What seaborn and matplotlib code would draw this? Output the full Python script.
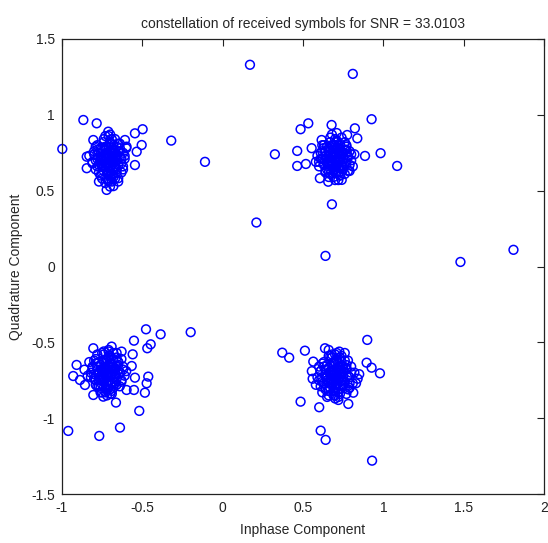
import numpy as np
import pandas as pd
import matplotlib
matplotlib.use('Agg')
import matplotlib.pyplot as plt
import seaborn as sns

sns.set_style('white')
plt.rcParams['font.family'] = ['Liberation Sans', 'DejaVu Sans']

# received symbols
tl_x = [-0.71, -0.68, -0.74, -0.70, -0.73, -0.66, -0.76, -0.69, -0.72, -0.65,
        -0.77, -0.67, -0.75, -0.70, -0.64, -0.78, -0.72, -0.68, -0.63, -0.74,
        -0.79, -0.66, -0.71, -0.62, -0.80, -0.69, -0.76, -0.64, -0.73, -0.67,
        -0.81, -0.61, -0.70, -0.72, -0.69, -0.75, -0.67, -0.71, -0.73, -0.66,
        -0.78, -0.62, -0.68, -0.60, -0.83, -0.77, -0.71, -0.65,
        -0.867, -0.784, -0.998, -0.498, -0.546, -0.504, -0.535, -0.546, -0.846,
        -0.722, -0.701, -0.650, -0.712, -0.805, -0.846, -0.608, -0.598]
tl_y = [0.71, 0.73, 0.69, 0.76, 0.66, 0.70, 0.74, 0.64, 0.79, 0.76,
        0.67, 0.66, 0.78, 0.60, 0.72, 0.71, 0.62, 0.80, 0.68, 0.82,
        0.64, 0.62, 0.57, 0.75, 0.76, 0.84, 0.60, 0.81, 0.55, 0.58,
        0.69, 0.71, 0.68, 0.74, 0.72, 0.71, 0.69, 0.65, 0.77, 0.79,
        0.80, 0.64, 0.53, 0.78, 0.73, 0.56, 0.86, 0.56,
        0.966, 0.944, 0.775, 0.905, 0.878, 0.801, 0.757, 0.669, 0.648,
        0.505, 0.527, 0.582, 0.889, 0.834, 0.724, 0.834, 0.790]
# dense core of the top-left cloud
tl_core_x = [-0.70, -0.72, -0.69, -0.73, -0.71, -0.68, -0.74, -0.70, -0.72, -0.67,
             -0.75, -0.69, -0.71, -0.73, -0.66, -0.76, -0.70, -0.68, -0.74, -0.72,
             -0.69, -0.71, -0.65, -0.77, -0.70, -0.73, -0.67, -0.75, -0.68, -0.72,
             -0.64, -0.78, -0.71, -0.69, -0.74, -0.66, -0.70, -0.76,
             -0.63, -0.79, -0.66, -0.76, -0.62, -0.80, -0.68, -0.74, -0.65, -0.77,
             -0.71, -0.70, -0.64, -0.78, -0.67, -0.75, -0.73, -0.69, -0.61, -0.81,
             -0.66, -0.76, -0.72, -0.70, -0.63, -0.79, -0.68, -0.74]
tl_core_y = [0.70, 0.72, 0.74, 0.68, 0.63, 0.77, 0.72, 0.66, 0.75, 0.72,
             0.66, 0.69, 0.79, 0.71, 0.74, 0.70, 0.73, 0.64, 0.63, 0.67,
             0.77, 0.61, 0.67, 0.75, 0.81, 0.79, 0.75, 0.61, 0.70, 0.58,
             0.78, 0.77, 0.68, 0.60, 0.73, 0.65, 0.82, 0.68,
             0.71, 0.70, 0.64, 0.78, 0.66, 0.74, 0.59, 0.84, 0.81, 0.62,
             0.56, 0.87, 0.76, 0.66, 0.84, 0.58, 0.86, 0.56, 0.73, 0.68,
             0.70, 0.71, 0.74, 0.65, 0.62, 0.79, 0.76, 0.67]

tr_x = [0.70, 0.73, 0.67, 0.71, 0.68, 0.75, 0.64, 0.72, 0.69, 0.76,
        0.63, 0.74, 0.66, 0.78, 0.71, 0.61, 0.77, 0.73, 0.65, 0.80,
        0.62, 0.69, 0.75, 0.67, 0.79, 0.60, 0.72, 0.70, 0.68, 0.74,
        0.66, 0.71, 0.77, 0.63, 0.81, 0.59, 0.73, 0.67, 0.82, 0.64,
        0.76, 0.70, 0.58, 0.79,
        0.485, 0.533, 0.678, 0.927, 0.823, 0.775, 0.838, 0.325, 0.464, 0.464,
        0.518, 0.983, 1.086, 0.886, 0.616, 0.605, 0.741, 0.657, 0.554]
tr_y = [0.72, 0.74, 0.70, 0.77, 0.67, 0.71, 0.73, 0.65, 0.80, 0.77,
        0.68, 0.67, 0.78, 0.73, 0.62, 0.71, 0.68, 0.81, 0.64, 0.70,
        0.76, 0.63, 0.64, 0.82, 0.76, 0.66, 0.70, 0.74, 0.72, 0.75,
        0.69, 0.68, 0.80, 0.80, 0.66, 0.73, 0.60, 0.61, 0.74, 0.62,
        0.61, 0.84, 0.69, 0.63,
        0.905, 0.944, 0.933, 0.971, 0.911, 0.867, 0.845, 0.740, 0.762, 0.663,
        0.676, 0.747, 0.663, 0.729, 0.834, 0.582, 0.571, 0.559, 0.780]
tr_core_x = [0.71, 0.69, 0.72, 0.68, 0.70, 0.73, 0.67, 0.71, 0.69, 0.74,
             0.66, 0.72, 0.70, 0.68, 0.75, 0.65, 0.71, 0.73, 0.67, 0.69,
             0.72, 0.70, 0.76, 0.64, 0.71, 0.68, 0.74, 0.66, 0.73, 0.69,
             0.77, 0.63, 0.70, 0.72, 0.67, 0.75, 0.71, 0.65,
             0.78, 0.62, 0.75, 0.65, 0.79, 0.61, 0.73, 0.67, 0.76, 0.64,
             0.70, 0.71, 0.77, 0.63, 0.74, 0.66, 0.68, 0.72, 0.80, 0.60,
             0.75, 0.65, 0.69, 0.71, 0.78, 0.62, 0.73, 0.67]
tr_core_y = [0.71, 0.73, 0.75, 0.69, 0.64, 0.78, 0.73, 0.67, 0.76, 0.73,
             0.67, 0.70, 0.80, 0.72, 0.75, 0.71, 0.74, 0.65, 0.64, 0.68,
             0.78, 0.62, 0.68, 0.76, 0.82, 0.80, 0.76, 0.62, 0.71, 0.59,
             0.79, 0.78, 0.69, 0.61, 0.74, 0.66, 0.83, 0.69,
             0.72, 0.71, 0.65, 0.79, 0.67, 0.75, 0.60, 0.85, 0.82, 0.63,
             0.57, 0.88, 0.77, 0.67, 0.85, 0.59, 0.87, 0.57, 0.74, 0.69,
             0.71, 0.72, 0.75, 0.66, 0.63, 0.80, 0.77, 0.68]

bl_x = [-0.72, -0.69, -0.75, -0.71, -0.74, -0.67, -0.78, -0.70, -0.73, -0.66,
        -0.80, -0.68, -0.76, -0.64, -0.72, -0.79, -0.63, -0.77, -0.70, -0.82,
        -0.65, -0.74, -0.68, -0.61, -0.81, -0.71, -0.73, -0.69, -0.75, -0.67,
        -0.77, -0.62, -0.84, -0.66, -0.79, -0.71, -0.63, -0.75, -0.60, -0.83,
        -0.69, -0.78, -0.66, -0.86,
        -0.477, -0.386, -0.199, -0.552, -0.448, -0.469, -0.560, -0.566, -0.546,
        -0.463, -0.473, -0.484, -0.552, -0.519, -0.664, -0.961, -0.768, -0.639,
        -0.930, -0.888, -0.805, -0.691, -0.629, -0.805, -0.743, -0.598, -0.909, -0.857]
bl_y = [-0.70, -0.68, -0.72, -0.65, -0.76, -0.73, -0.68, -0.78, -0.62, -0.66,
        -0.74, -0.61, -0.65, -0.70, -0.81, -0.61, -0.76, -0.79, -0.59, -0.70,
        -0.63, -0.58, -0.80, -0.72, -0.66, -0.73, -0.68, -0.71, -0.69, -0.69,
        -0.75, -0.66, -0.72, -0.78, -0.78, -0.56, -0.61, -0.83, -0.69, -0.63,
        -0.84, -0.58, -0.57, -0.68,
        -0.414, -0.447, -0.433, -0.489, -0.513, -0.539, -0.579, -0.656, -0.733,
        -0.726, -0.770, -0.832, -0.814, -0.952, -0.897, -1.084, -1.117, -1.062,
        -0.722, -0.748, -0.539, -0.528, -0.561, -0.847, -0.858, -0.814, -0.649, -0.781]
bl_core_x = [-0.71, -0.73, -0.70, -0.74, -0.72, -0.69, -0.75, -0.71, -0.73, -0.68,
             -0.76, -0.70, -0.72, -0.74, -0.67, -0.77, -0.71, -0.69, -0.75, -0.73,
             -0.70, -0.72, -0.66, -0.78, -0.71, -0.74, -0.68, -0.76, -0.69, -0.73,
             -0.65, -0.79, -0.72, -0.70, -0.75, -0.67, -0.71, -0.77,
             -0.64, -0.80, -0.67, -0.77, -0.63, -0.81, -0.69, -0.75, -0.66, -0.78,
             -0.72, -0.71, -0.65, -0.79, -0.68, -0.76, -0.74, -0.70, -0.62, -0.82,
             -0.67, -0.77, -0.73, -0.71, -0.64, -0.80, -0.69, -0.75]
bl_core_y = [-0.71, -0.69, -0.67, -0.73, -0.78, -0.64, -0.69, -0.75, -0.66, -0.69,
             -0.75, -0.72, -0.62, -0.70, -0.67, -0.71, -0.68, -0.77, -0.78, -0.74,
             -0.64, -0.80, -0.74, -0.66, -0.60, -0.62, -0.66, -0.80, -0.71, -0.83,
             -0.63, -0.64, -0.73, -0.81, -0.68, -0.76, -0.59, -0.73,
             -0.70, -0.71, -0.77, -0.63, -0.75, -0.67, -0.82, -0.57, -0.60, -0.79,
             -0.85, -0.55, -0.65, -0.75, -0.57, -0.83, -0.56, -0.84, -0.68, -0.73,
             -0.71, -0.70, -0.67, -0.76, -0.79, -0.62, -0.65, -0.74]

br_x = [0.70, 0.73, 0.67, 0.71, 0.68, 0.75, 0.64, 0.72, 0.69, 0.77,
        0.62, 0.74, 0.66, 0.79, 0.70, 0.61, 0.76, 0.66, 0.73, 0.80,
        0.63, 0.68, 0.78, 0.64, 0.81, 0.59, 0.72, 0.69, 0.71, 0.74,
        0.67, 0.75, 0.65, 0.77, 0.60, 0.82, 0.70, 0.62, 0.79, 0.72,
        0.58, 0.84, 0.66, 0.76,
        0.371, 0.414, 0.512, 0.637, 0.660, 0.726, 0.900, 0.896, 0.927, 0.979,
        0.485, 0.601, 0.782, 0.813, 0.830, 0.850, 0.610, 0.641, 0.564, 0.555,
        0.560, 0.610, 0.690]
br_y = [-0.72, -0.70, -0.74, -0.67, -0.78, -0.75, -0.71, -0.81, -0.64, -0.68,
        -0.76, -0.63, -0.67, -0.73, -0.85, -0.69, -0.80, -0.82, -0.60, -0.66,
        -0.63, -0.60, -0.62, -0.80, -0.77, -0.73, -0.75, -0.71, -0.77, -0.73,
        -0.69, -0.66, -0.86, -0.84, -0.66, -0.70, -0.58, -0.83, -0.80, -0.88,
        -0.78, -0.74, -0.59, -0.57,
        -0.568, -0.601, -0.555, -0.539, -0.550, -0.561, -0.484, -0.634, -0.667, -0.704,
        -0.891, -0.928, -0.906, -0.832, -0.770, -0.710, -1.082, -1.143, -0.627, -0.690,
        -0.740, -0.790, -0.820]
br_core_x = [0.71, 0.69, 0.72, 0.68, 0.70, 0.73, 0.67, 0.71, 0.69, 0.74,
             0.66, 0.72, 0.70, 0.68, 0.75, 0.65, 0.71, 0.73, 0.67, 0.69,
             0.72, 0.70, 0.76, 0.64, 0.71, 0.68, 0.74, 0.66, 0.73, 0.69,
             0.77, 0.63, 0.70, 0.72, 0.67, 0.75, 0.71, 0.65,
             0.78, 0.62, 0.75, 0.65, 0.79, 0.61, 0.73, 0.67, 0.76, 0.64,
             0.70, 0.71, 0.77, 0.63, 0.74, 0.66, 0.68, 0.72, 0.80, 0.60,
             0.75, 0.65, 0.69, 0.71, 0.78, 0.62, 0.73, 0.67]
br_core_y = [-0.73, -0.71, -0.69, -0.75, -0.80, -0.66, -0.71, -0.77, -0.68, -0.71,
             -0.77, -0.74, -0.64, -0.72, -0.69, -0.73, -0.70, -0.79, -0.80, -0.76,
             -0.66, -0.82, -0.76, -0.68, -0.62, -0.64, -0.68, -0.82, -0.73, -0.85,
             -0.65, -0.66, -0.75, -0.83, -0.70, -0.78, -0.61, -0.75,
             -0.72, -0.73, -0.79, -0.65, -0.77, -0.69, -0.84, -0.59, -0.62, -0.81,
             -0.87, -0.57, -0.67, -0.77, -0.59, -0.85, -0.58, -0.86, -0.70, -0.75,
             -0.73, -0.72, -0.69, -0.78, -0.81, -0.64, -0.67, -0.76]

# stray symbols far from the four constellation points
stray_x = [0.17, 0.81, 0.21, 0.64, 1.48, 1.81, 0.68, -0.11, -0.32, 0.93]
stray_y = [1.33, 1.27, 0.29, 0.07, 0.03, 0.11, 0.41, 0.69, 0.83, -1.28]

xticks = [-1, -0.5, 0, 0.5, 1, 1.5, 2]
yticks = [-1.5, -1, -0.5, 0, 0.5, 1, 1.5]
xlabels = ['-1', '-0.5', '0', '0.5', '1', '1.5', '2']
ylabels = ['-1.5', '-1', '-0.5', '0', '0.5', '1', '1.5']

df = pd.DataFrame({
    'inphase': tl_x + tl_core_x + tr_x + tr_core_x + bl_x + bl_core_x
               + br_x + br_core_x + stray_x,
    'quadrature': tl_y + tl_core_y + tr_y + tr_core_y + bl_y + bl_core_y
                  + br_y + br_core_y + stray_y,
})

fig = plt.figure(figsize=(5.48, 5.43), dpi=100)
ax = fig.add_axes([0.1131, 0.0902, 0.8796, 0.8380])

sns.scatterplot(data=df, x='inphase', y='quadrature', ax=ax, marker='o', s=40,
                facecolors='none', edgecolors='#0000ff', linewidths=1.1,
                clip_on=False)

ax.set_xlim(-1, 2)
ax.set_ylim(-1.5, 1.5)
ax.set_xticks(xticks)
ax.set_xticklabels(xlabels)
ax.set_yticks(yticks)
ax.set_yticklabels(ylabels)
ax.tick_params(direction='in', length=5, width=0.8, top=True, right=True,
               labelsize=10, colors='#222222', pad=5)
for sp in ax.spines.values():
    sp.set_color('#222222')
    sp.set_linewidth(0.9)

ax.set_xlabel('Inphase Component', fontsize=10, labelpad=6)
ax.set_ylabel('Quadrature Component', fontsize=10, labelpad=6)
ax.set_title('constellation of received symbols for SNR = 33.0103', fontsize=10, pad=8)

fig.savefig('out.png', dpi=100, facecolor='white')
